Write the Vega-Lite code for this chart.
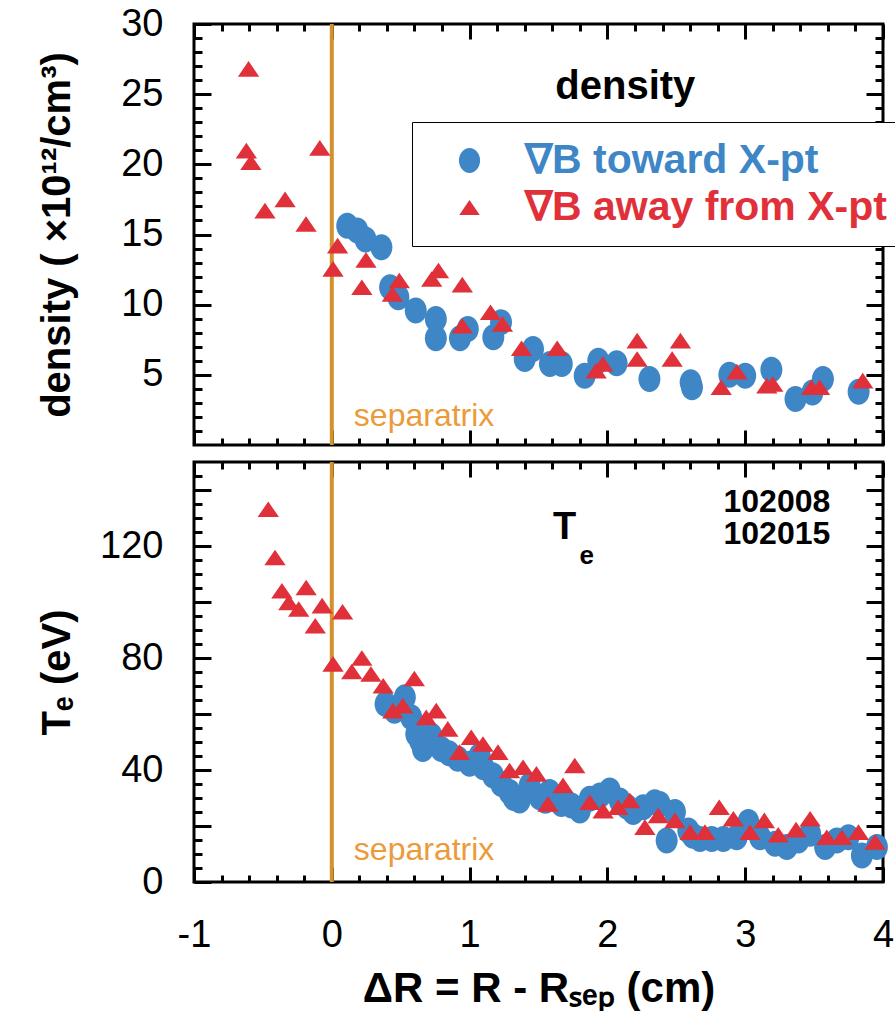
{
  "$schema": "https://vega.github.io/schema/vega-lite/v6.json",
  "background": "white",
  "padding": {"left": 35, "top": 3, "right": 0, "bottom": 0},
  "config": {
    "view": {"stroke": "black", "strokeWidth": 3},
    "font": "Liberation Sans",
    "axis": {"domain": false, "grid": false, "tickColor": "black", "tickWidth": 3, "labelFont": "Liberation Sans", "labelColor": "black", "labelFontSize": 38, "titleFont": "Liberation Sans", "titleFontSize": 40, "titleFontWeight": "bold", "titleColor": "black", "labelFlush": false, "labelOverlap": false}
  },
  "datasets": {
    "dens": [
      {"x": 0.112, "y": 15.63, "s": "∇B toward X-pt"},
      {"x": 0.185, "y": 15.28, "s": "∇B toward X-pt"},
      {"x": 0.245, "y": 14.64, "s": "∇B toward X-pt"},
      {"x": 0.36, "y": 14.09, "s": "∇B toward X-pt"},
      {"x": 0.423, "y": 11.24, "s": "∇B toward X-pt"},
      {"x": 0.483, "y": 10.53, "s": "∇B toward X-pt"},
      {"x": 0.609, "y": 9.58, "s": "∇B toward X-pt"},
      {"x": 0.755, "y": 8.98, "s": "∇B toward X-pt"},
      {"x": 0.755, "y": 7.6, "s": "∇B toward X-pt"},
      {"x": 0.93, "y": 7.6, "s": "∇B toward X-pt"},
      {"x": 0.987, "y": 8.27, "s": "∇B toward X-pt"},
      {"x": 1.172, "y": 7.67, "s": "∇B toward X-pt"},
      {"x": 1.228, "y": 8.74, "s": "∇B toward X-pt"},
      {"x": 1.4, "y": 6.13, "s": "∇B toward X-pt"},
      {"x": 1.46, "y": 6.84, "s": "∇B toward X-pt"},
      {"x": 1.583, "y": 5.77, "s": "∇B toward X-pt"},
      {"x": 1.669, "y": 5.77, "s": "∇B toward X-pt"},
      {"x": 1.835, "y": 4.94, "s": "∇B toward X-pt"},
      {"x": 1.934, "y": 6.01, "s": "∇B toward X-pt"},
      {"x": 2.067, "y": 5.82, "s": "∇B toward X-pt"},
      {"x": 2.305, "y": 4.7, "s": "∇B toward X-pt"},
      {"x": 2.604, "y": 4.47, "s": "∇B toward X-pt"},
      {"x": 2.614, "y": 4.11, "s": "∇B toward X-pt"},
      {"x": 2.885, "y": 5.01, "s": "∇B toward X-pt"},
      {"x": 3.0, "y": 4.94, "s": "∇B toward X-pt"},
      {"x": 3.19, "y": 5.37, "s": "∇B toward X-pt"},
      {"x": 3.365, "y": 3.28, "s": "∇B toward X-pt"},
      {"x": 3.488, "y": 3.75, "s": "∇B toward X-pt"},
      {"x": 3.564, "y": 4.7, "s": "∇B toward X-pt"},
      {"x": 3.823, "y": 3.8, "s": "∇B toward X-pt"},
      {"x": -0.604, "y": 26.8, "s": "∇B away from X-pt"},
      {"x": -0.62, "y": 20.98, "s": "∇B away from X-pt"},
      {"x": -0.587, "y": 20.15, "s": "∇B away from X-pt"},
      {"x": -0.087, "y": 21.17, "s": "∇B away from X-pt"},
      {"x": -0.485, "y": 16.7, "s": "∇B away from X-pt"},
      {"x": -0.339, "y": 17.5, "s": "∇B away from X-pt"},
      {"x": -0.187, "y": 15.75, "s": "∇B away from X-pt"},
      {"x": 0.042, "y": 14.21, "s": "∇B away from X-pt"},
      {"x": 0.009, "y": 12.55, "s": "∇B away from X-pt"},
      {"x": 0.248, "y": 13.19, "s": "∇B away from X-pt"},
      {"x": 0.218, "y": 11.24, "s": "∇B away from X-pt"},
      {"x": 0.49, "y": 11.72, "s": "∇B away from X-pt"},
      {"x": 0.44, "y": 10.76, "s": "∇B away from X-pt"},
      {"x": 0.725, "y": 11.83, "s": "∇B away from X-pt"},
      {"x": 0.774, "y": 12.43, "s": "∇B away from X-pt"},
      {"x": 0.947, "y": 11.43, "s": "∇B away from X-pt"},
      {"x": 0.947, "y": 8.5, "s": "∇B away from X-pt"},
      {"x": 1.152, "y": 9.46, "s": "∇B away from X-pt"},
      {"x": 1.238, "y": 8.63, "s": "∇B away from X-pt"},
      {"x": 1.377, "y": 6.89, "s": "∇B away from X-pt"},
      {"x": 1.636, "y": 6.89, "s": "∇B away from X-pt"},
      {"x": 1.918, "y": 5.3, "s": "∇B away from X-pt"},
      {"x": 1.967, "y": 5.77, "s": "∇B away from X-pt"},
      {"x": 2.216, "y": 7.44, "s": "∇B away from X-pt"},
      {"x": 2.216, "y": 6.13, "s": "∇B away from X-pt"},
      {"x": 2.53, "y": 7.44, "s": "∇B away from X-pt"},
      {"x": 2.47, "y": 6.13, "s": "∇B away from X-pt"},
      {"x": 2.826, "y": 4.11, "s": "∇B away from X-pt"},
      {"x": 2.94, "y": 5.23, "s": "∇B away from X-pt"},
      {"x": 3.157, "y": 4.23, "s": "∇B away from X-pt"},
      {"x": 3.2, "y": 4.35, "s": "∇B away from X-pt"},
      {"x": 3.482, "y": 4.11, "s": "∇B away from X-pt"},
      {"x": 3.54, "y": 4.11, "s": "∇B away from X-pt"},
      {"x": 3.853, "y": 4.59, "s": "∇B away from X-pt"}
    ],
    "te": [
      {"x": 0.39, "y": 63.6, "s": "∇B toward X-pt"},
      {"x": 0.455, "y": 61.2, "s": "∇B toward X-pt"},
      {"x": 0.53, "y": 66.0, "s": "∇B toward X-pt"},
      {"x": 0.576, "y": 58.8, "s": "∇B toward X-pt"},
      {"x": 0.613, "y": 52.9, "s": "∇B toward X-pt"},
      {"x": 0.64, "y": 50.5, "s": "∇B toward X-pt"},
      {"x": 0.661, "y": 47.5, "s": "∇B toward X-pt"},
      {"x": 0.722, "y": 52.3, "s": "∇B toward X-pt"},
      {"x": 0.794, "y": 47.5, "s": "∇B toward X-pt"},
      {"x": 0.85, "y": 46.0, "s": "∇B toward X-pt"},
      {"x": 0.915, "y": 44.0, "s": "∇B toward X-pt"},
      {"x": 1.0, "y": 42.2, "s": "∇B toward X-pt"},
      {"x": 1.073, "y": 45.1, "s": "∇B toward X-pt"},
      {"x": 1.1, "y": 41.0, "s": "∇B toward X-pt"},
      {"x": 1.17, "y": 38.0, "s": "∇B toward X-pt"},
      {"x": 1.23, "y": 35.0, "s": "∇B toward X-pt"},
      {"x": 1.29, "y": 32.1, "s": "∇B toward X-pt"},
      {"x": 1.32, "y": 30.0, "s": "∇B toward X-pt"},
      {"x": 1.363, "y": 29.1, "s": "∇B toward X-pt"},
      {"x": 1.436, "y": 34.5, "s": "∇B toward X-pt"},
      {"x": 1.509, "y": 30.3, "s": "∇B toward X-pt"},
      {"x": 1.55, "y": 29.0, "s": "∇B toward X-pt"},
      {"x": 1.58, "y": 32.1, "s": "∇B toward X-pt"},
      {"x": 1.666, "y": 27.9, "s": "∇B toward X-pt"},
      {"x": 1.739, "y": 27.3, "s": "∇B toward X-pt"},
      {"x": 1.8, "y": 25.5, "s": "∇B toward X-pt"},
      {"x": 1.872, "y": 29.7, "s": "∇B toward X-pt"},
      {"x": 1.945, "y": 30.9, "s": "∇B toward X-pt"},
      {"x": 2.017, "y": 32.7, "s": "∇B toward X-pt"},
      {"x": 2.09, "y": 29.1, "s": "∇B toward X-pt"},
      {"x": 2.14, "y": 27.0, "s": "∇B toward X-pt"},
      {"x": 2.187, "y": 25.0, "s": "∇B toward X-pt"},
      {"x": 2.26, "y": 26.7, "s": "∇B toward X-pt"},
      {"x": 2.344, "y": 28.5, "s": "∇B toward X-pt"},
      {"x": 2.38, "y": 27.9, "s": "∇B toward X-pt"},
      {"x": 2.43, "y": 14.8, "s": "∇B toward X-pt"},
      {"x": 2.49, "y": 25.0, "s": "∇B toward X-pt"},
      {"x": 2.587, "y": 18.4, "s": "∇B toward X-pt"},
      {"x": 2.62, "y": 16.5, "s": "∇B toward X-pt"},
      {"x": 2.672, "y": 15.4, "s": "∇B toward X-pt"},
      {"x": 2.757, "y": 15.4, "s": "∇B toward X-pt"},
      {"x": 2.841, "y": 15.4, "s": "∇B toward X-pt"},
      {"x": 2.938, "y": 16.0, "s": "∇B toward X-pt"},
      {"x": 3.023, "y": 21.4, "s": "∇B toward X-pt"},
      {"x": 3.108, "y": 16.0, "s": "∇B toward X-pt"},
      {"x": 3.217, "y": 13.7, "s": "∇B toward X-pt"},
      {"x": 3.302, "y": 12.5, "s": "∇B toward X-pt"},
      {"x": 3.386, "y": 14.8, "s": "∇B toward X-pt"},
      {"x": 3.471, "y": 17.2, "s": "∇B toward X-pt"},
      {"x": 3.58, "y": 12.5, "s": "∇B toward X-pt"},
      {"x": 3.665, "y": 14.8, "s": "∇B toward X-pt"},
      {"x": 3.749, "y": 16.0, "s": "∇B toward X-pt"},
      {"x": 3.847, "y": 9.5, "s": "∇B toward X-pt"},
      {"x": 3.956, "y": 12.5, "s": "∇B toward X-pt"},
      {"x": -0.461, "y": 133.1, "s": "∇B away from X-pt"},
      {"x": -0.412, "y": 115.9, "s": "∇B away from X-pt"},
      {"x": -0.362, "y": 104.0, "s": "∇B away from X-pt"},
      {"x": -0.186, "y": 105.2, "s": "∇B away from X-pt"},
      {"x": -0.312, "y": 99.85, "s": "∇B away from X-pt"},
      {"x": -0.24, "y": 97.5, "s": "∇B away from X-pt"},
      {"x": -0.07, "y": 98.7, "s": "∇B away from X-pt"},
      {"x": 0.078, "y": 96.5, "s": "∇B away from X-pt"},
      {"x": -0.12, "y": 91.5, "s": "∇B away from X-pt"},
      {"x": 0.009, "y": 77.9, "s": "∇B away from X-pt"},
      {"x": 0.145, "y": 75.2, "s": "∇B away from X-pt"},
      {"x": 0.218, "y": 80.0, "s": "∇B away from X-pt"},
      {"x": 0.284, "y": 74.3, "s": "∇B away from X-pt"},
      {"x": 0.373, "y": 70.1, "s": "∇B away from X-pt"},
      {"x": 0.599, "y": 72.7, "s": "∇B away from X-pt"},
      {"x": 0.443, "y": 61.2, "s": "∇B away from X-pt"},
      {"x": 0.515, "y": 63.0, "s": "∇B away from X-pt"},
      {"x": 0.685, "y": 58.8, "s": "∇B away from X-pt"},
      {"x": 0.758, "y": 61.2, "s": "∇B away from X-pt"},
      {"x": 0.842, "y": 54.7, "s": "∇B away from X-pt"},
      {"x": 0.927, "y": 46.4, "s": "∇B away from X-pt"},
      {"x": 1.012, "y": 51.7, "s": "∇B away from X-pt"},
      {"x": 1.097, "y": 49.3, "s": "∇B away from X-pt"},
      {"x": 1.206, "y": 46.4, "s": "∇B away from X-pt"},
      {"x": 1.29, "y": 39.8, "s": "∇B away from X-pt"},
      {"x": 1.388, "y": 41.0, "s": "∇B away from X-pt"},
      {"x": 1.485, "y": 38.6, "s": "∇B away from X-pt"},
      {"x": 1.569, "y": 27.9, "s": "∇B away from X-pt"},
      {"x": 1.678, "y": 34.5, "s": "∇B away from X-pt"},
      {"x": 1.763, "y": 41.6, "s": "∇B away from X-pt"},
      {"x": 1.872, "y": 28.5, "s": "∇B away from X-pt"},
      {"x": 1.969, "y": 25.5, "s": "∇B away from X-pt"},
      {"x": 2.078, "y": 26.7, "s": "∇B away from X-pt"},
      {"x": 2.163, "y": 29.1, "s": "∇B away from X-pt"},
      {"x": 2.272, "y": 19.6, "s": "∇B away from X-pt"},
      {"x": 2.369, "y": 23.8, "s": "∇B away from X-pt"},
      {"x": 2.49, "y": 22.0, "s": "∇B away from X-pt"},
      {"x": 2.6, "y": 17.8, "s": "∇B away from X-pt"},
      {"x": 2.708, "y": 17.8, "s": "∇B away from X-pt"},
      {"x": 2.812, "y": 26.7, "s": "∇B away from X-pt"},
      {"x": 2.914, "y": 22.6, "s": "∇B away from X-pt"},
      {"x": 3.035, "y": 17.8, "s": "∇B away from X-pt"},
      {"x": 3.139, "y": 22.0, "s": "∇B away from X-pt"},
      {"x": 3.24, "y": 16.9, "s": "∇B away from X-pt"},
      {"x": 3.369, "y": 18.7, "s": "∇B away from X-pt"},
      {"x": 3.471, "y": 22.6, "s": "∇B away from X-pt"},
      {"x": 3.592, "y": 16.0, "s": "∇B away from X-pt"},
      {"x": 3.701, "y": 16.0, "s": "∇B away from X-pt"},
      {"x": 3.822, "y": 17.8, "s": "∇B away from X-pt"},
      {"x": 3.943, "y": 14.3, "s": "∇B away from X-pt"}
    ]
  },
  "spacing": 9,
  "resolve": {"scale": {"color": "independent", "shape": "independent"}, "legend": {"color": "independent", "shape": "independent"}},
  "vconcat": [
    {
      "width": 689,
      "height": 421,
      "resolve": {"axis": {"x": "independent", "y": "independent"}},
      "layer": [
        {
          "data": {"values": [{"x": 0, "y": 0, "y2": 30}]},
          "mark": {"type": "rule", "color": "#d4922c", "strokeWidth": 4},
          "encoding": {
            "x": {"field": "x", "type": "quantitative", "scale": {"domain": [-1, 4], "nice": false, "zero": false}, "axis": {"orient": "bottom", "values": [-0.8,-0.6,-0.4,-0.2,0.2,0.4,0.6,0.8,1.2,1.4,1.6,1.8,2.2,2.4,2.6,2.8,3.2,3.4,3.6,3.8], "tickSize": -7, "labels": false, "title": null}},
            "y": {"field": "y", "type": "quantitative", "scale": {"domain": [0, 30], "nice": false, "zero": false}, "axis": {"orient": "left", "values": [1,2,3,4,6,7,8,9,11,12,13,14,16,17,18,19,21,22,23,24,26,27,28,29], "tickSize": -8, "labels": false, "title": null}},
            "y2": {"field": "y2"}
          }
        },
        {
          "data": {"name": "dens"},
          "mark": {"type": "point", "filled": true, "size": 676, "opacity": 1, "strokeWidth": 0},
          "encoding": {
            "x": {"field": "x", "type": "quantitative", "axis": {"orient": "bottom", "values": [-1,0,1,2,3,4], "tickSize": -15, "labels": false, "title": null}},
            "y": {"field": "y", "type": "quantitative", "axis": {"orient": "left", "values": [5,10,15,20,25,30], "tickSize": -17, "labelPadding": 48, "title": "density ( ×10¹²/cm³)", "titleX": -117}},
            "color": {"field": "s", "type": "nominal", "sort": null, "scale": {"domain": ["∇B toward X-pt", "∇B away from X-pt"], "range": ["#3f86c7", "#e0303a"]},
              "legend": {"title": null, "orient": "none", "legendX": 218, "legendY": 98, "fillColor": "white", "strokeColor": "black", "padding": 18, "symbolOffset": 19, "labelOffset": 35, "rowPadding": 5, "symbolSize": 625, "symbolStrokeWidth": 0, "labelFont": "Liberation Sans", "labelFontSize": 41, "labelFontWeight": "bold", "labelLimit": 0,
                "labelColor": {"expr": "indexof(datum.value, 'toward') >= 0 ? '#3f86c7' : '#e0303a'"},
                "encode": {"labels": {"fill": {"value": {"expr": "indexof(datum.value, 'toward') >= 0 ? '#3f86c7' : '#e0303a'"}}}, "legend": {"strokeWidth": {"value": 2.5}}}}},
            "shape": {"field": "s", "type": "nominal", "sort": null, "scale": {"domain": ["∇B toward X-pt", "∇B away from X-pt"], "range": ["M0.846,0C0.846,0.552,0.467,1,0,1C-0.467,1,-0.846,0.552,-0.846,0C-0.846,-0.552,-0.467,-1,0,-1C0.467,-1,0.846,-0.552,0.846,0Z", "M0,-0.6L0.82,0.6L-0.82,0.6Z"]},
              "legend": {"title": null, "orient": "none", "legendX": 218, "legendY": 98, "fillColor": "white", "strokeColor": "black", "padding": 18, "symbolOffset": 19, "labelOffset": 35, "rowPadding": 5, "symbolSize": 625, "symbolStrokeWidth": 0, "labelFont": "Liberation Sans", "labelFontSize": 41, "labelFontWeight": "bold", "labelLimit": 0,
                "labelColor": {"expr": "indexof(datum.value, 'toward') >= 0 ? '#3f86c7' : '#e0303a'"},
                "encode": {"labels": {"fill": {"value": {"expr": "indexof(datum.value, 'toward') >= 0 ? '#3f86c7' : '#e0303a'"}}}, "legend": {"strokeWidth": {"value": 2.5}}}}}
          }
        },
        {
          "data": {"values": [{"x": 0.16, "y": 1.35, "t": "separatrix"}]},
          "mark": {"type": "text", "align": "left", "baseline": "alphabetic", "font": "Liberation Sans", "fontSize": 32, "color": "#eb9b3a"},
          "encoding": {
            "x": {"field": "x", "type": "quantitative", "axis": {"orient": "top", "values": [-1,0,1,2,3,4], "tickSize": -15, "labels": false, "title": null}},
            "y": {"field": "y", "type": "quantitative", "axis": {"orient": "right", "values": [5,10,15,20,25], "tickSize": -17, "labels": false, "title": null}},
            "text": {"field": "t"}
          }
        },
        {
          "data": {"values": [{"x": 2.13, "y": 24.65, "t": "density"}]},
          "mark": {"type": "text", "align": "center", "baseline": "alphabetic", "font": "Liberation Sans", "fontSize": 40, "fontWeight": "bold", "color": "black"},
          "encoding": {
            "x": {"field": "x", "type": "quantitative", "axis": {"orient": "top", "values": [-0.8,-0.6,-0.4,-0.2,0.2,0.4,0.6,0.8,1.2,1.4,1.6,1.8,2.2,2.4,2.6,2.8,3.2,3.4,3.6,3.8], "tickSize": -7, "labels": false, "title": null}},
            "y": {"field": "y", "type": "quantitative", "axis": {"orient": "right", "values": [1,2,3,4,6,7,8,9,11,12,13,14,16,17,18,19,21,22,23,24,26,27,28,29], "tickSize": -8, "labels": false, "title": null}},
            "text": {"field": "t"}
          }
        }
      ]
    },
    {
      "width": 689,
      "height": 420,
      "resolve": {"axis": {"x": "independent", "y": "independent"}},
      "layer": [
        {
          "data": {"values": [{"x": 0, "y": 0, "y2": 150}]},
          "mark": {"type": "rule", "color": "#d4922c", "strokeWidth": 4},
          "encoding": {
            "x": {"field": "x", "type": "quantitative", "scale": {"domain": [-1, 4], "nice": false, "zero": false}, "axis": {"orient": "bottom", "values": [-0.8,-0.6,-0.4,-0.2,0.2,0.4,0.6,0.8,1.2,1.4,1.6,1.8,2.2,2.4,2.6,2.8,3.2,3.4,3.6,3.8], "tickSize": -7, "labels": false, "title": null}},
            "y": {"field": "y", "type": "quantitative", "scale": {"domain": [0, 150], "nice": false, "zero": false}, "axis": {"orient": "left", "values": [5,10,15,25,30,35,45,50,55,65,70,75,85,90,95,105,110,115,125,130,135,145], "tickSize": -8, "labels": false, "title": null}},
            "y2": {"field": "y2"}
          }
        },
        {
          "data": {"name": "te"},
          "mark": {"type": "point", "filled": true, "size": 676, "opacity": 1, "strokeWidth": 0},
          "encoding": {
            "x": {"field": "x", "type": "quantitative", "axis": {"orient": "bottom", "values": [-1,0,1,2,3,4], "tickSize": -15, "labelPadding": 49, "labelExpr": "replace(datum.label, '−', '-')", "title": "ΔR = R - Rₛₑₚ (cm)", "titleFontSize": 42, "titlePadding": 14}},
            "y": {"field": "y", "type": "quantitative", "axis": {"orient": "left", "values": [0,20,40,60,80,100,120,140], "tickSize": -17, "labelPadding": 48, "labelExpr": "datum.value % 40 == 0 ? datum.label : ''", "title": "Tₑ (eV)", "titleX": -117}},
            "color": {"field": "s", "type": "nominal", "sort": null, "scale": {"domain": ["∇B toward X-pt", "∇B away from X-pt"], "range": ["#3f86c7", "#e0303a"]}, "legend": null},
            "shape": {"field": "s", "type": "nominal", "sort": null, "scale": {"domain": ["∇B toward X-pt", "∇B away from X-pt"], "range": ["M0.846,0C0.846,0.552,0.467,1,0,1C-0.467,1,-0.846,0.552,-0.846,0C-0.846,-0.552,-0.467,-1,0,-1C0.467,-1,0.846,-0.552,0.846,0Z", "M0,-0.6L0.82,0.6L-0.82,0.6Z"]}, "legend": null}
          }
        },
        {
          "data": {"values": [{"x": 0.16, "y": 7.7, "t": "separatrix"}]},
          "mark": {"type": "text", "align": "left", "baseline": "alphabetic", "font": "Liberation Sans", "fontSize": 32, "color": "#eb9b3a"},
          "encoding": {
            "x": {"field": "x", "type": "quantitative", "axis": {"orient": "top", "values": [-1,0,1,2,3,4], "tickSize": -15, "labels": false, "title": null}},
            "y": {"field": "y", "type": "quantitative", "axis": {"orient": "right", "values": [20,40,60,80,100,120,140], "tickSize": -17, "labels": false, "title": null}},
            "text": {"field": "t"}
          }
        },
        {
          "data": {"values": [{"x": 1.69, "y": 122.4, "t": "T"}]},
          "mark": {"type": "text", "align": "center", "baseline": "alphabetic", "font": "Liberation Sans", "fontSize": 38, "fontWeight": "bold", "color": "black"},
          "encoding": {
            "x": {"field": "x", "type": "quantitative", "axis": {"orient": "top", "values": [-0.8,-0.6,-0.4,-0.2,0.2,0.4,0.6,0.8,1.2,1.4,1.6,1.8,2.2,2.4,2.6,2.8,3.2,3.4,3.6,3.8], "tickSize": -7, "labels": false, "title": null}},
            "y": {"field": "y", "type": "quantitative", "axis": {"orient": "right", "values": [5,10,15,25,30,35,45,50,55,65,70,75,85,90,95,105,110,115,125,130,135,145], "tickSize": -8, "labels": false, "title": null}},
            "text": {"field": "t"}
          }
        },
        {
          "data": {"values": [{"x": 1.85, "y": 113.5, "t": "e"}]},
          "mark": {"type": "text", "align": "center", "baseline": "alphabetic", "font": "Liberation Sans", "fontSize": 26, "fontWeight": "bold", "color": "black"},
          "encoding": {
            "x": {"field": "x", "type": "quantitative", "axis": null},
            "y": {"field": "y", "type": "quantitative", "axis": null},
            "text": {"field": "t"}
          }
        },
        {
          "data": {"values": [{"x": 3.23, "y": 132.2, "t": "102008"}, {"x": 3.23, "y": 120.6, "t": "102015"}]},
          "mark": {"type": "text", "align": "center", "baseline": "alphabetic", "font": "Liberation Sans", "fontSize": 32, "fontWeight": "bold", "color": "black"},
          "encoding": {
            "x": {"field": "x", "type": "quantitative", "axis": null},
            "y": {"field": "y", "type": "quantitative", "axis": null},
            "text": {"field": "t"}
          }
        }
      ]
    }
  ]
}
